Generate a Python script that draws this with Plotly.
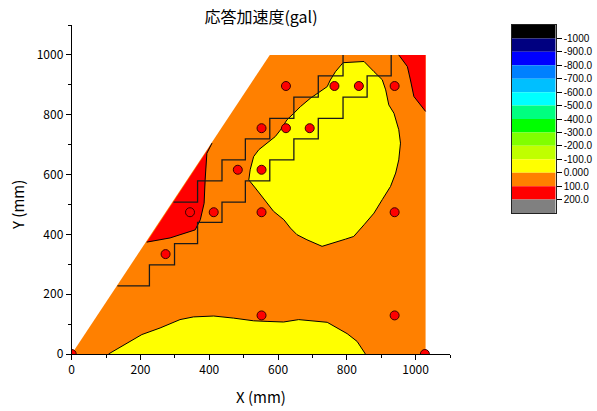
import plotly.graph_objects as go

# ---------------- data ----------------
# model outline (orange, 0..100 gal band)
dom_x = [0, 576, 1029, 1029, 0]
dom_y = [0, 1000, 1000, 0, 0]

# red band (100..200) upper-left: diagonal edge then contour
red1_x = [218, 408, 393, 388, 385, 374, 359, 286, 218]
red1_y = [374, 705, 671, 582, 504, 449, 415, 388, 374]
# red band upper-right
red2_x = [951, 1029, 1029, 995, 985, 976, 951]
red2_y = [1000, 1000, 811, 861, 916, 961, 1000]

# yellow band (-100..0) central island
yel1_x = [789, 850, 879, 903, 913, 922, 937, 951, 956, 951, 942, 927, 903, 879, 850, 820,
          796, 762, 728, 684, 655, 636, 617, 587, 558, 534, 515, 519, 529, 544, 568, 592,
          607, 626, 646, 665, 694, 723, 743, 752, 767, 789]
yel1_y = [974, 978, 944, 917, 883, 833, 805, 750, 705, 649, 605, 560, 516, 471, 432, 393,
          384, 371, 360, 382, 399, 421, 449, 477, 521, 555, 582, 616, 660, 683, 705, 727,
          749, 783, 805, 827, 855, 878, 894, 916, 944, 974]
# yellow band bottom
yel2_x = [107, 204, 257, 315, 354, 413, 471, 529, 568, 616, 660, 704, 743, 801, 830, 854]
yel2_y = [0, 65, 87, 115, 124, 127, 120, 111, 109, 107, 115, 109, 106, 68, 42, 0]

# staircase lines (steps)
stair_lo_x = [133, 226, 299, 366, 437, 505, 576, 646, 717, 789, 859, 929]
stair_lo_y = [228, 298, 369, 440, 508, 579, 649, 719, 788, 859, 930, 1000]
stair_up_x = [296, 366, 437, 505, 576, 646, 717, 789]
stair_up_y = [508, 579, 649, 719, 788, 859, 930, 1000]

# measurement points
pt_x = [623, 764, 835, 939, 552, 623, 692, 483, 552, 344, 413, 552, 939, 273, 552, 939, 0, 1027]
pt_y = [896, 896, 896, 896, 755, 755, 755, 616, 616, 474, 474, 474, 474, 334, 129, 129, 0, 0]

# colour legend
legend_colors = ["#000000", "#000080", "#0000FF", "#0080FF", "#00BFFF", "#00FFFF", "#00FF80",
                 "#00FF00", "#80FF00", "#C0FF00", "#FFFF00", "#FF8000", "#FF0000", "#808080"]
legend_labels = ["-1000", "-900.0", "-800.0", "-700.0", "-600.0", "-500.0", "-400.0",
                 "-300.0", "-200.0", "-100.0", "0.000", "100.0", "200.0"]

x_ticks = [0, 200, 400, 600, 800, 1000]
y_ticks = [0, 200, 400, 600, 800, 1000]

FONT = "Noto Sans CJK JP"
W, H = 597, 411

fig = go.Figure()

def fill(x, y, color):
    fig.add_trace(go.Scatter(x=x, y=y, mode="lines", fill="toself", fillcolor=color,
                             line=dict(width=0, color=color), hoverinfo="skip", showlegend=False))

def line(x, y, width=1.0, color="#000000", shape="linear"):
    fig.add_trace(go.Scatter(x=x, y=y, mode="lines", line=dict(width=width, color=color, shape=shape),
                             hoverinfo="skip", showlegend=False))

fill(dom_x, dom_y, "#FF8000")
fill(red1_x, red1_y, "#FF0000")
fill(red2_x, red2_y, "#FF0000")
fill(yel1_x, yel1_y, "#FFFF00")
fill(yel2_x, yel2_y, "#FFFF00")

line(red1_x[1:], red1_y[1:])
line(red2_x[2:], red2_y[2:])
line(yel1_x, yel1_y)
line(yel2_x, yel2_y)
line(stair_lo_x, stair_lo_y, width=1.3, color="#1a1a1a", shape="hv")
line(stair_up_x, stair_up_y, width=1.3, color="#1a1a1a", shape="hv")

fig.add_trace(go.Scatter(x=pt_x, y=pt_y, mode="markers",
                         marker=dict(size=9, color="#FF0000", line=dict(width=1, color="#3a0000")),
                         showlegend=False, hoverinfo="skip"))

# legend bar on separate axes
n = len(legend_colors)
fig.add_trace(go.Bar(x=[0] * n, y=[1] * n, base=list(range(n)), width=1,
                     marker=dict(color=legend_colors, line=dict(width=0)),
                     xaxis="x2", yaxis="y2", showlegend=False, hoverinfo="skip"))

tickfont = dict(family=FONT, size=12, color="#000000")
fig.update_layout(
    width=W, height=H,
    margin=dict(l=0, r=0, t=0, b=0, autoexpand=False),
    paper_bgcolor="white", plot_bgcolor="white",
    showlegend=False,
    barmode="overlay",
    title=dict(text="応答加速度(gal)", x=261 / W, xanchor="center", y=1 - 17 / H, yanchor="middle",
               font=dict(family=FONT, size=16, color="#000000")),
    xaxis=dict(domain=[71.7 / W, 450 / W], range=[0, 1100], showgrid=False, zeroline=False,
               automargin=False,
               showline=True, linecolor="#000000", linewidth=1, ticks="outside", ticklen=5,
               tickcolor="#000000", tickvals=x_ticks, tickfont=tickfont,
               minor=dict(ticks="outside", ticklen=3, dtick=100, tickcolor="#000000", showgrid=False)),
    yaxis=dict(domain=[1 - 354 / H, 1 - 25 / H], range=[0, 1100], showgrid=False, zeroline=False,
               automargin=False,
               showline=True, linecolor="#000000", linewidth=1, ticks="outside", ticklen=5,
               tickcolor="#000000", tickvals=y_ticks, tickfont=tickfont,
               minor=dict(ticks="outside", ticklen=3, dtick=100, tickcolor="#000000", showgrid=False)),
    xaxis2=dict(domain=[511.5 / W, 555.7 / W], range=[-0.5, 0.5], anchor="y2", showgrid=False,
                automargin=False,
                zeroline=False, showticklabels=False, ticks="", showline=True, mirror=True,
                linecolor="#222222", linewidth=1),
    yaxis2=dict(domain=[1 - 213 / H, 1 - 25 / H], range=[n, 0], anchor="x2", side="right",
                automargin=False,
                showgrid=False, zeroline=False, showline=True, mirror=True, linecolor="#222222",
                linewidth=1, ticks="outside", ticklen=5, tickcolor="#000000",
                tickvals=list(range(1, n)), ticktext=legend_labels,
                tickfont=dict(family="Liberation Sans", size=10, color="#000000")),
    annotations=[
        dict(text="X (mm)", x=261 / W, y=1 - 396 / H, xref="paper", yref="paper", showarrow=False,
             xanchor="center", yanchor="middle", font=dict(family=FONT, size=15, color="#000000")),
        dict(text="Y (mm)", x=18 / W, y=1 - 205 / H, xref="paper", yref="paper", showarrow=False,
             textangle=-90, xanchor="center", yanchor="middle",
             font=dict(family=FONT, size=15, color="#000000")),
    ],
)

fig.write_html("out.html")
